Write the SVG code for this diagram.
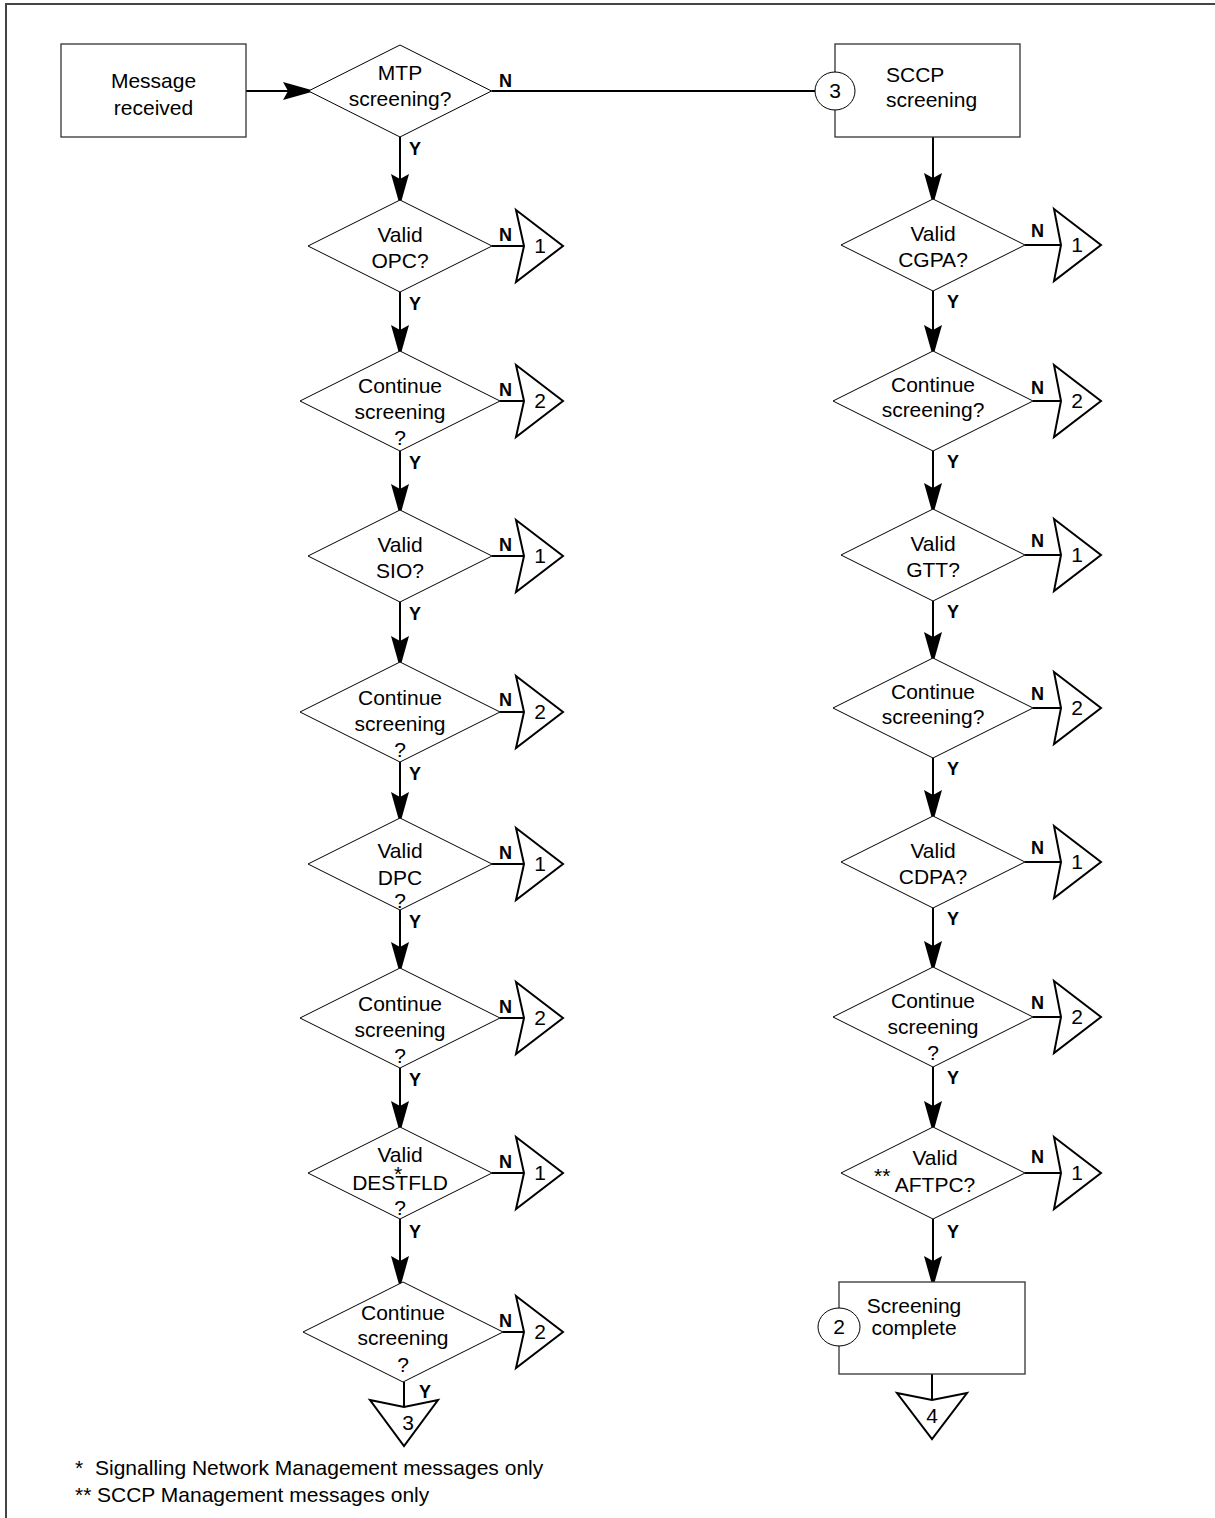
<svg xmlns="http://www.w3.org/2000/svg" width="1215" height="1518" viewBox="0 0 1215 1518">
<style>
text{font-family:"Liberation Sans",Arial,sans-serif;font-size:21px;fill:#000}
.c{text-anchor:middle}
.lb{font-weight:bold;font-size:18px}
.box{fill:#fff;stroke:#333;stroke-width:1.3}
.dia{fill:#fff;stroke:#000;stroke-width:1}
.off{fill:#fff;stroke:#000;stroke-width:2;stroke-linejoin:miter}
.ln{fill:none;stroke:#000;stroke-width:2}
.ar{fill:none;stroke:#000;stroke-width:2;marker-end:url(#ah)}
.frame{fill:none;stroke:#444;stroke-width:2}
</style>
<defs>
<marker id="ah" markerUnits="userSpaceOnUse" viewBox="0 0 32 18" markerWidth="32" markerHeight="18" refX="29" refY="9" orient="auto">
<path d="M0,0 L32,9 L0,18 L5,9 Z" fill="#000"/>
</marker>
</defs>
<rect width="1215" height="1518" fill="#fff"/>
<path class="frame" d="M6,1518 V4 H1215"/>

<g id="connectors">
<path class="ar" d="M246,91 H312"/>
<path class="ln" d="M491.5,91 H816"/>
<path class="ar" d="M400,137 V203"/>
<path class="ar" d="M400,292 V354"/>
<path class="ar" d="M400,451 V513"/>
<path class="ar" d="M400,602 V665"/>
<path class="ar" d="M400,762 V821"/>
<path class="ar" d="M400,910 V971"/>
<path class="ar" d="M400,1068 V1130"/>
<path class="ar" d="M400,1219 V1285"/>
<path class="ln" d="M404,1382 V1407"/>
<path class="ln" d="M492,246 H524"/>
<path class="ln" d="M500,401 H524"/>
<path class="ln" d="M492,556 H524"/>
<path class="ln" d="M500,712 H524"/>
<path class="ln" d="M492,864 H524"/>
<path class="ln" d="M500,1018 H524"/>
<path class="ln" d="M492,1173 H524"/>
<path class="ln" d="M503,1332 H524"/>
<path class="ar" d="M933,137 V202"/>
<path class="ar" d="M933,291 V354"/>
<path class="ar" d="M933,451 V512"/>
<path class="ar" d="M933,601 V661"/>
<path class="ar" d="M933,758 V819"/>
<path class="ar" d="M933,908 V970"/>
<path class="ar" d="M933,1067 V1130"/>
<path class="ar" d="M933,1219 V1285"/>
<path class="ln" d="M932,1374 V1400"/>
<path class="ln" d="M1025,245 H1061"/>
<path class="ln" d="M1033,401 H1061"/>
<path class="ln" d="M1025,555 H1061"/>
<path class="ln" d="M1033,708 H1061"/>
<path class="ln" d="M1025,862 H1061"/>
<path class="ln" d="M1033,1017 H1061"/>
<path class="ln" d="M1025,1173 H1061"/>
</g>

<g id="labels">
<text class="lb" x="499" y="87">N</text>
<text class="lb" x="409" y="155">Y</text>
<text class="lb" x="499" y="241">N</text>
<text class="lb" x="409" y="310">Y</text>
<text class="lb" x="499" y="396">N</text>
<text class="lb" x="409" y="469">Y</text>
<text class="lb" x="499" y="551">N</text>
<text class="lb" x="409" y="620">Y</text>
<text class="lb" x="499" y="706">N</text>
<text class="lb" x="409" y="780">Y</text>
<text class="lb" x="499" y="859">N</text>
<text class="lb" x="409" y="928">Y</text>
<text class="lb" x="499" y="1013">N</text>
<text class="lb" x="409" y="1086">Y</text>
<text class="lb" x="499" y="1168">N</text>
<text class="lb" x="409" y="1238">Y</text>
<text class="lb" x="499" y="1327">N</text>
<text class="lb" x="419" y="1398">Y</text>
<text class="lb" x="1031" y="237">N</text>
<text class="lb" x="947" y="308">Y</text>
<text class="lb" x="1031" y="394">N</text>
<text class="lb" x="947" y="468">Y</text>
<text class="lb" x="1031" y="547">N</text>
<text class="lb" x="947" y="618">Y</text>
<text class="lb" x="1031" y="700">N</text>
<text class="lb" x="947" y="775">Y</text>
<text class="lb" x="1031" y="854">N</text>
<text class="lb" x="947" y="925">Y</text>
<text class="lb" x="1031" y="1009">N</text>
<text class="lb" x="947" y="1084">Y</text>
<text class="lb" x="1031" y="1163">N</text>
<text class="lb" x="947" y="1238">Y</text>
</g>

<g id="msg-received">
<rect class="box" x="61" y="44" width="185" height="93"/>
<text class="c" x="153.5" y="88">Message</text>
<text class="c" x="153.5" y="115">received</text>
</g>

<g id="mtp-screening">
<path class="dia" d="M400,45 L491.5,91 L400,137 L308.5,91 Z"/>
<text class="c" x="400" y="80">MTP</text>
<text class="c" x="400" y="106">screening?</text>
</g>

<g id="sccp-screening">
<rect class="box" x="835" y="44" width="185" height="93"/>
<ellipse cx="835" cy="91" rx="20" ry="19" fill="#fff" stroke="#000" stroke-width="1"/>
<text class="c" x="835" y="98">3</text>
<text x="886" y="82">SCCP</text>
<text x="886" y="107">screening</text>
</g>

<g id="valid-opc">
<path class="dia" d="M400,200 L492,246 L400,292 L308,246 Z"/>
<text class="c" x="400" y="242">Valid</text>
<text class="c" x="400" y="268">OPC?</text>
</g>
<g id="off-opc"><path class="off" d="M516,210 L563,246 L516,282 L524,246 Z"/><text class="c" x="540" y="253">1</text></g>

<g id="continue-1">
<path class="dia" d="M400,351 L500,401 L400,451 L300,401 Z"/>
<text class="c" x="400" y="393">Continue</text>
<text class="c" x="400" y="419">screening</text>
<text class="c" x="400" y="445">?</text>
</g>
<g id="off-cont-1"><path class="off" d="M516,365 L563,401 L516,437 L524,401 Z"/><text class="c" x="540" y="408">2</text></g>

<g id="valid-sio">
<path class="dia" d="M400,510 L492,556 L400,602 L308,556 Z"/>
<text class="c" x="400" y="552">Valid</text>
<text class="c" x="400" y="578">SIO?</text>
</g>
<g id="off-sio"><path class="off" d="M516,520 L563,556 L516,592 L524,556 Z"/><text class="c" x="540" y="563">1</text></g>

<g id="continue-2">
<path class="dia" d="M400,662 L500,712 L400,762 L300,712 Z"/>
<text class="c" x="400" y="705">Continue</text>
<text class="c" x="400" y="731">screening</text>
<text class="c" x="400" y="757">?</text>
</g>
<g id="off-cont-2"><path class="off" d="M516,676 L563,712 L516,748 L524,712 Z"/><text class="c" x="540" y="719">2</text></g>

<g id="valid-dpc">
<path class="dia" d="M400,818 L492,864 L400,910 L308,864 Z"/>
<text class="c" x="400" y="858">Valid</text>
<text class="c" x="400" y="885">DPC</text>
<text class="c" x="400" y="908">?</text>
</g>
<g id="off-dpc"><path class="off" d="M516,828 L563,864 L516,900 L524,864 Z"/><text class="c" x="540" y="871">1</text></g>

<g id="continue-3">
<path class="dia" d="M400,968 L500,1018 L400,1068 L300,1018 Z"/>
<text class="c" x="400" y="1011">Continue</text>
<text class="c" x="400" y="1037">screening</text>
<text class="c" x="400" y="1063">?</text>
</g>
<g id="off-cont-3"><path class="off" d="M516,982 L563,1018 L516,1054 L524,1018 Z"/><text class="c" x="540" y="1025">2</text></g>

<g id="valid-destfld">
<path class="dia" d="M400,1127 L492,1173 L400,1219 L308,1173 Z"/>
<text class="c" x="400" y="1162">Valid</text>
<text class="c" x="398" y="1181">*</text>
<text class="c" x="400" y="1190">DESTFLD</text>
<text class="c" x="400" y="1215">?</text>
</g>
<g id="off-destfld"><path class="off" d="M516,1137 L563,1173 L516,1209 L524,1173 Z"/><text class="c" x="540" y="1180">1</text></g>

<g id="continue-4">
<path class="dia" d="M403,1282 L503,1332 L403,1382 L303,1332 Z"/>
<text class="c" x="403" y="1320">Continue</text>
<text class="c" x="403" y="1345">screening</text>
<text class="c" x="403" y="1372">?</text>
</g>
<g id="off-cont-4"><path class="off" d="M516,1296 L563,1332 L516,1368 L524,1332 Z"/><text class="c" x="540" y="1339">2</text></g>

<g id="off-page-3"><path class="off" d="M370,1400 L404,1407 L438,1400 L404,1446 Z"/><text class="c" x="408" y="1430">3</text></g>

<g id="valid-cgpa">
<path class="dia" d="M933,199 L1025,245 L933,291 L841,245 Z"/>
<text class="c" x="933" y="241">Valid</text>
<text class="c" x="933" y="267">CGPA?</text>
</g>
<g id="off-cgpa"><path class="off" d="M1054,209 L1101,245 L1054,281 L1061,245 Z"/><text class="c" x="1077" y="252">1</text></g>

<g id="r-continue-1">
<path class="dia" d="M933,351 L1033,401 L933,451 L833,401 Z"/>
<text class="c" x="933" y="392">Continue</text>
<text class="c" x="933" y="417">screening?</text>
</g>
<g id="off-r-cont-1"><path class="off" d="M1054,365 L1101,401 L1054,437 L1061,401 Z"/><text class="c" x="1077" y="408">2</text></g>

<g id="valid-gtt">
<path class="dia" d="M933,509 L1025,555 L933,601 L841,555 Z"/>
<text class="c" x="933" y="551">Valid</text>
<text class="c" x="933" y="577">GTT?</text>
</g>
<g id="off-gtt"><path class="off" d="M1054,519 L1101,555 L1054,591 L1061,555 Z"/><text class="c" x="1077" y="562">1</text></g>

<g id="r-continue-2">
<path class="dia" d="M933,658 L1033,708 L933,758 L833,708 Z"/>
<text class="c" x="933" y="699">Continue</text>
<text class="c" x="933" y="724">screening?</text>
</g>
<g id="off-r-cont-2"><path class="off" d="M1054,672 L1101,708 L1054,744 L1061,708 Z"/><text class="c" x="1077" y="715">2</text></g>

<g id="valid-cdpa">
<path class="dia" d="M933,816 L1025,862 L933,908 L841,862 Z"/>
<text class="c" x="933" y="858">Valid</text>
<text class="c" x="933" y="884">CDPA?</text>
</g>
<g id="off-cdpa"><path class="off" d="M1054,826 L1101,862 L1054,898 L1061,862 Z"/><text class="c" x="1077" y="869">1</text></g>

<g id="r-continue-3">
<path class="dia" d="M933,967 L1033,1017 L933,1067 L833,1017 Z"/>
<text class="c" x="933" y="1008">Continue</text>
<text class="c" x="933" y="1034">screening</text>
<text class="c" x="933" y="1060">?</text>
</g>
<g id="off-r-cont-3"><path class="off" d="M1054,981 L1101,1017 L1054,1053 L1061,1017 Z"/><text class="c" x="1077" y="1024">2</text></g>

<g id="valid-aftpc">
<path class="dia" d="M933,1127 L1025,1173 L933,1219 L841,1173 Z"/>
<text x="874" y="1183">**</text>
<text class="c" x="935" y="1165">Valid</text>
<text class="c" x="935" y="1192">AFTPC?</text>
</g>
<g id="off-aftpc"><path class="off" d="M1054,1137 L1101,1173 L1054,1209 L1061,1173 Z"/><text class="c" x="1077" y="1180">1</text></g>

<g id="screening-complete">
<rect class="box" x="839" y="1282" width="186" height="92"/>
<ellipse cx="839" cy="1327" rx="21" ry="19" fill="#fff" stroke="#000" stroke-width="1"/>
<text class="c" x="839" y="1334">2</text>
<text class="c" x="914" y="1313">Screening</text>
<text class="c" x="914" y="1335">complete</text>
</g>

<g id="off-page-4"><path class="off" d="M897,1393 L932,1400 L967,1393 L932,1439 Z"/><text class="c" x="932" y="1423">4</text></g>

<g id="footnotes">
<text x="75" y="1475">*<tspan x="95">Signalling Network Management messages only</tspan></text>
<text x="75" y="1502">**<tspan x="97">SCCP Management messages only</tspan></text>
</g>
</svg>
